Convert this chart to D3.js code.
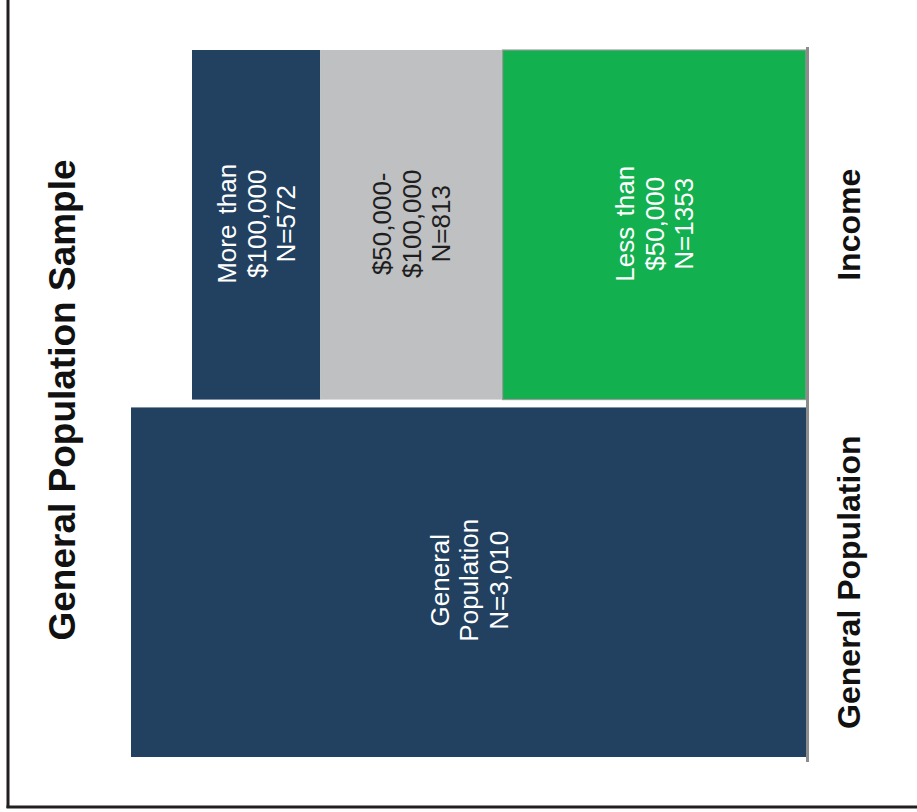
<!DOCTYPE html>
<html>
<head>
<meta charset="utf-8">
<script src="https://cdn.jsdelivr.net/npm/d3@7"></script>
<style>
  html, body { margin: 0; padding: 0; background: #fff; }
  svg { display: block; font-family: "Liberation Sans", Arial, Helvetica, sans-serif; }
</style>
</head>
<body>
<svg id="chart" width="917" height="812"></svg>
<script>
// Sample sizes by group
const categories = ["Income", "General Population"];
const incomeLabels = [
  ["More than", "$100,000", "N=572"],
  ["$50,000-", "$100,000", "N=813"],
  ["Less than", "$50,000", "N=1353"]
];
const incomeValues = [572, 813, 1353];
const generalLabels = [["General", "Population", "N=3,010"]];
const generalValues = [3010];
const title = "General Population Sample";

const incomeColors = ["#22405f", "#bfc0c2", "#13b04f"];
const incomeText = ["#ffffff", "#1e1e1e", "#ffffff"];
const generalColors = ["#22405f"];
const generalText = ["#ffffff"];

const svg = d3.select("#chart");

// Frame (left and bottom edges)
svg.append("line").attr("x1", 8).attr("x2", 8).attr("y1", 0).attr("y2", 808)
  .attr("stroke", "#231f20").attr("stroke-width", 3);
svg.append("line").attr("x1", 6.5).attr("x2", 917).attr("y1", 807).attr("y2", 807)
  .attr("stroke", "#231f20").attr("stroke-width", 3);

// Values run leftwards from the baseline
const x = d3.scaleLinear().domain([0, d3.max([d3.sum(incomeValues), d3.sum(generalValues)])])
  .range([806, 131]);
const y = d3.scaleBand().domain(categories).range([50, 757]).paddingInner(0.022);

function stack(values, labels, colors, textColors, cat) {
  let acc = 0;
  const segs = values.map((v, i) => {
    const s = { v, start: acc, end: acc + v, label: labels[i], color: colors[i], tc: textColors[i], cat };
    acc += v;
    return s;
  });
  // the first segment sits farthest from the baseline
  const total = acc;
  segs.forEach(s => { s.x0 = total - s.end; s.x1 = total - s.start; });
  return segs;
}

const segments = [
  ...stack(incomeValues, incomeLabels, incomeColors, incomeText, "Income"),
  ...stack(generalValues, generalLabels, generalColors, generalText, "General Population")
];

const g = svg.append("g");
g.selectAll("rect.seg").data(segments).enter().append("rect")
  .attr("class", "seg")
  .attr("x", d => x(d.x1))
  .attr("width", d => x(d.x0) - x(d.x1))
  .attr("y", d => y(d.cat))
  .attr("height", y.bandwidth())
  .attr("fill", d => d.color)
  .attr("stroke", d => d.color === "#13b04f" ? "#9a9a9a" : "none")
  .attr("stroke-width", 1.2);

// Segment labels, rotated to read bottom-to-top
const lineGap = 29.5;
const lab = g.selectAll("g.lab").data(segments).enter().append("g")
  .attr("class", "lab")
  .attr("transform", d => {
    const cx = (x(d.x0) + x(d.x1)) / 2;
    const cy = y(d.cat) + y.bandwidth() / 2 - (d.cat === "Income" ? 1 : 2);
    return `translate(${cx},${cy}) rotate(-90)`;
  });
lab.each(function(d) {
  const n = d.label.length;
  const t = d3.select(this).append("text")
    .attr("text-anchor", "middle")
    .attr("fill", d.tc)
    .style("font-size", "26px")
    .style("word-spacing", "3px");
  d.label.forEach((line, i) => {
    t.append("tspan").attr("x", 0)
      .attr("y", (i - (n - 1) / 2) * lineGap + 9.5)
      .text(line);
  });
});

// Baseline axis with category names
const axis = d3.axisRight(y).tickSize(0).tickPadding(0);
const ax = svg.append("g").attr("transform", "translate(807.5,0)").call(axis);
ax.select(".domain").remove();
ax.append("line").attr("x1", 0).attr("x2", 0).attr("y1", 47).attr("y2", 762)
  .attr("stroke", "#8c8c8c").attr("stroke-width", 3);
ax.selectAll(".tick text")
  .attr("x", 0).attr("y", 0).attr("dy", 0)
  .attr("text-anchor", "middle")
  .attr("transform", "translate(52.5,0) rotate(-90)")
  .attr("fill", "#111")
  .style("font-size", "32px")
  .style("font-weight", "bold")
  .style("font-family", "'Liberation Sans', Arial, sans-serif");

// Title
svg.append("text")
  .attr("transform", "translate(75,400) rotate(-90)")
  .attr("text-anchor", "middle")
  .attr("fill", "#111")
  .style("font-size", "37px")
  .style("font-weight", "bold")
  .text(title);
</script>
</body>
</html>
